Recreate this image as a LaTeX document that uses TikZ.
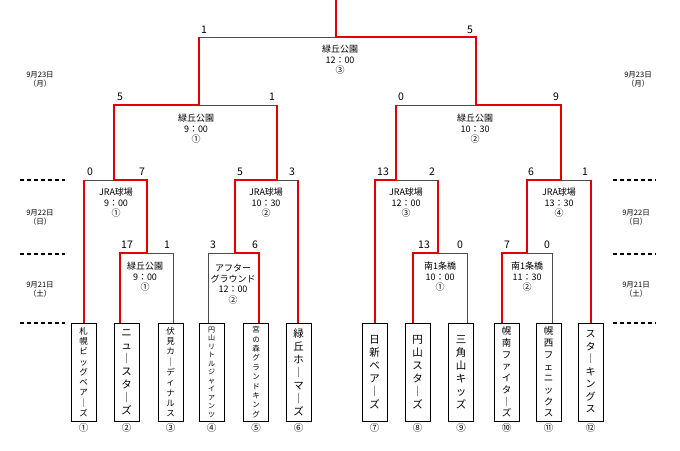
\documentclass[tikz,border=0pt]{standalone}
\usepackage{fontspec}
\usetikzlibrary{calc}
\setmainfont{Noto Sans CJK JP}
\begin{document}
\begin{tikzpicture}[x=1pt,y=-1pt,
  g/.style={draw=black!70,line width=0.9},
  r/.style={draw=red!90!black,line width=2},
  team/.style={draw,line width=0.8,minimum width=25,minimum height=98,inner sep=0,anchor=center},
  sc/.style={font=\fontsize{10.5}{11}\selectfont,inner sep=0},
  lb/.style={font=\fontsize{9}{10.5}\selectfont,align=center,inner sep=0},
  dt/.style={font=\fontsize{7.5}{9}\selectfont,align=center,inner sep=0},
  dl/.style={dash pattern=on 4 off 3,line width=1.2},
  no/.style={font=\fontsize{9.5}{10}\selectfont,inner sep=0}]
\useasboundingbox (0,0) rectangle (680,450);
% teams
\newcommand\tm[5]{\node[team,font=\fontsize{#3}{#4}\selectfont,align=center] (t#1) at (#2,372) {#5};}
\tm{1}{83.5}{8.5}{10.3}{札\\幌\\ビ\\ッ\\グ\\ベ\\ア\\｜\\ズ}
\tm{2}{126.5}{10.5}{13}{ニ\\ュ\\｜\\ス\\タ\\｜\\ズ}
\tm{3}{170.5}{8.5}{10.3}{伏\\見\\カ\\｜\\デ\\ィ\\ナ\\ル\\ス}
\tm{4}{211.5}{7}{8.5}{円\\山\\リ\\ト\\ル\\ジ\\ャ\\イ\\ア\\ン\\ツ}
\tm{5}{256}{7.5}{9.4}{宮\\の\\森\\グ\\ラ\\ン\\ド\\キ\\ン\\グ}
\tm{6}{298.5}{10.5}{13}{緑\\丘\\ホ\\｜\\マ\\｜\\ズ}
\tm{7}{374.5}{10.5}{13}{日\\新\\ベ\\ア\\｜\\ズ}
\tm{8}{417.5}{10.5}{13}{円\\山\\ス\\タ\\｜\\ズ}
\tm{9}{461}{10.5}{13}{三\\角\\山\\キ\\ッ\\ズ}
\tm{10}{506.5}{9.5}{11.7}{幌\\南\\フ\\ァ\\イ\\タ\\｜\\ズ}
\tm{11}{548.5}{9.5}{11.7}{幌\\西\\フ\\ェ\\ニ\\ッ\\ク\\ス}
\tm{12}{590.5}{10}{12.5}{ス\\タ\\｜\\キ\\ン\\グ\\ス}
\foreach \i/\s in {1/①,2/②,3/③,4/④,5/⑤,6/⑥,7/⑦,8/⑧,9/⑨,10/⑩,11/⑪,12/⑫}
  \node[no] (n\i) at ($(t\i.south)+(0,6)$) {\s};
% gray brackets
\draw[g] (120,323)|-(173,253)--(173,323);
\draw[g] (208,323)|-(259,253)--(259,323);
\draw[g] (413,323)|-(467,253)--(467,323);
\draw[g] (502,323)|-(552,253)--(552,323);
\draw[g] (84,323)|-(147,180)--(147,253);
\draw[g] (235,253)|-(298,180)--(298,323);
\draw[g] (375,323)|-(438,180)--(438,253);
\draw[g] (527,253)|-(591,180)--(591,323);
\draw[g] (114,180)|-(277,105)--(277,180);
\draw[g] (396,180)|-(561,105)--(561,180);
\draw[g] (199,105)|-(476,37)--(476,105);
% red winners
\draw[r] (84,323)--(84,180);
\draw[r] (120,323)|-(147,253)--(147,180)--(114,180)--(114,105)--(199,105)--(199,37);
\draw[r] (259,323)|-(235,253)--(235,180)--(277,180)--(277,105);
\draw[r] (298,323)--(298,180);
\draw[r] (375,323)|-(396,180)--(396,105);
\draw[r] (413,323)|-(438,253)--(438,180);
\draw[r] (502,323)|-(527,253)--(527,180)--(561,180)--(561,105)--(476,105)--(476,37)--(336,37)--(336,0);
\draw[r] (591,323)--(591,180);
% scores
\foreach \x/\y/\s [count=\k] in {204/30/1,470/30/5,120/97/5,272/97/1,401/97/0,556/97/9,
  90/172/0,142/172/7,240/172/5,292/172/3,383/172/13,432/172/2,531/172/6,585/172/1,
  127/245/17,167/245/1,213/245/3,255/245/6,424/245/13,460/245/0,507/245/7,547/245/0}
  \node[sc] (s\k) at (\x,\y) {\s};
% match labels
\node[lb] (mF) at (340,60) {緑丘公園\\12：00\\③};
\node[lb] (mS1) at (196,129) {緑丘公園\\9：00\\①};
\node[lb] (mS2) at (475,129) {緑丘公園\\10：30\\②};
\node[lb] (mJ1) at (116,203) {JRA球場\\9：00\\①};
\node[lb] (mJ2) at (266,203) {JRA球場\\10：30\\②};
\node[lb] (mJ3) at (406,203) {JRA球場\\12：00\\③};
\node[lb] (mJ4) at (559,203) {JRA球場\\13：30\\④};
\node[lb] (m11) at (145,277) {緑丘公園\\9：00\\①};
\node[lb] (m12) at (233,284) {アフター\\グラウンド\\12：00\\②};
\node[lb] (m13) at (440,277) {南1条橋\\10：00\\①};
\node[lb] (m14) at (527,277) {南1条橋\\11：30\\②};
% dates
\foreach \y in {180,254,323}{
  \draw[dl] (20,\y)--(65,\y); \draw[dl] (613,\y)--(656,\y);}
\node[dt] (dl1) at (40,79) {9月23日\\（月）};
\node[dt] (dr1) at (638,79) {9月23日\\（月）};
\node[dt] (dl2) at (40,217) {9月22日\\（日）};
\node[dt] (dr2) at (636,217) {9月22日\\（日）};
\node[dt] (dl3) at (40,289) {9月21日\\（土）};
\node[dt] (dr3) at (636,289) {9月21日\\（土）};
\end{tikzpicture}
\end{document}
